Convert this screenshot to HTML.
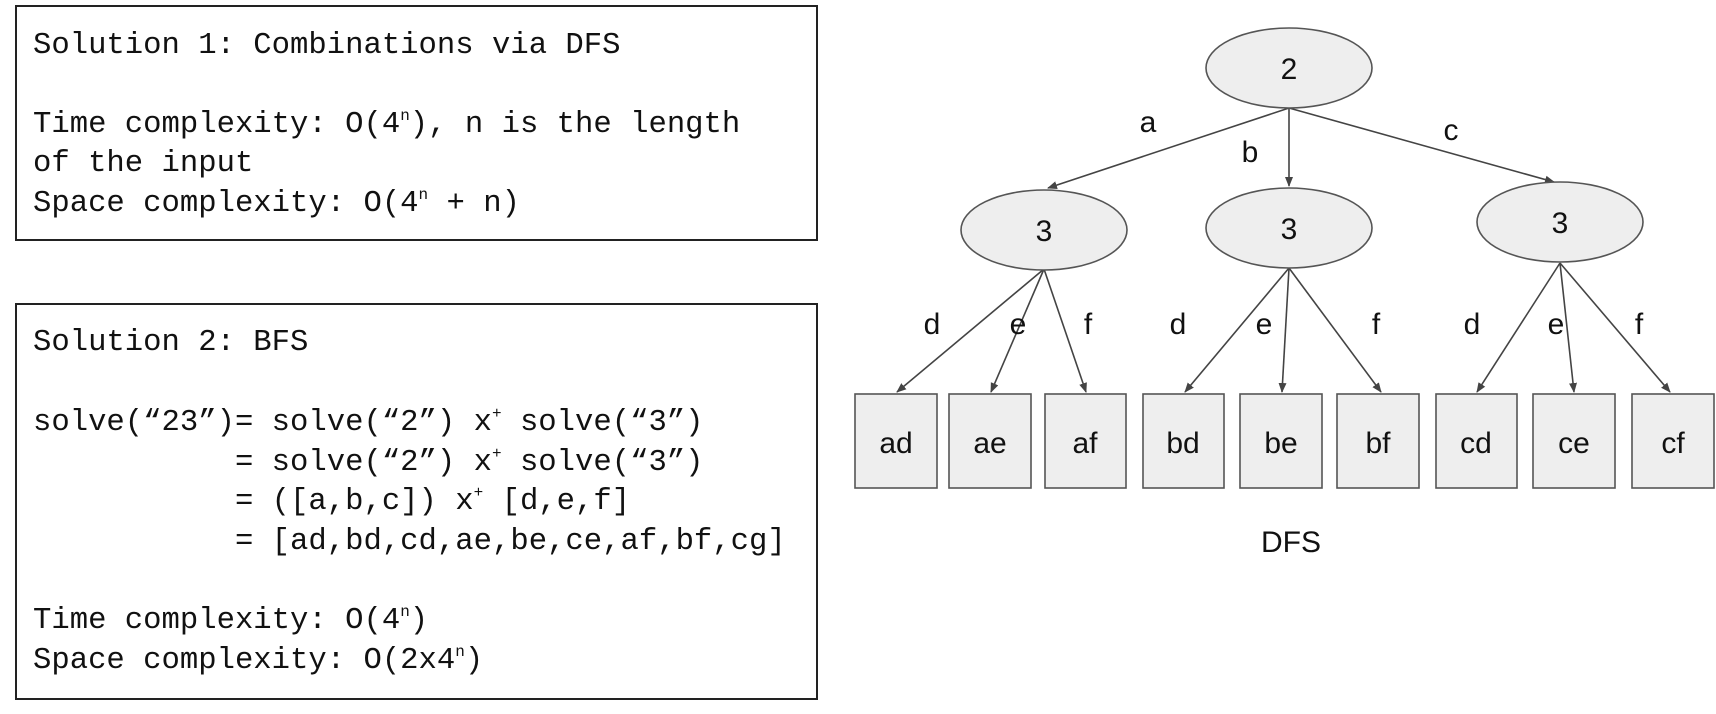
<!DOCTYPE html>
<html><head><meta charset="utf-8"><style>
body{margin:0;width:1716px;height:714px;background:#fff;overflow:hidden;position:relative}
.box{position:absolute;border:2px solid #222;box-sizing:border-box}
.t{position:absolute;left:33px;font-family:"Liberation Mono",monospace;font-size:30.6px;white-space:pre;color:#111;line-height:40px}
sup{font-size:16px;vertical-align:12px;line-height:0}
svg{position:absolute;left:0;top:0}
</style></head><body>
<div class="box" style="left:15px;top:5px;width:803px;height:236px"></div>
<div class="box" style="left:15px;top:303px;width:803px;height:397px"></div>
<div class="t" style="top:26px">Solution 1: Combinations via DFS</div>
<div class="t" style="top:105px">Time complexity: O(4<sup>n</sup>), n is the length</div>
<div class="t" style="top:144px">of the input</div>
<div class="t" style="top:184px">Space complexity: O(4<sup>n</sup> + n)</div>
<div class="t" style="top:323px">Solution 2: BFS</div>
<div class="t" style="top:403px">solve(“23”)= solve(“2”) x<sup>+</sup> solve(“3”)</div>
<div class="t" style="top:443px">           = solve(“2”) x<sup>+</sup> solve(“3”)</div>
<div class="t" style="top:482px">           = ([a,b,c]) x<sup>+</sup> [d,e,f]</div>
<div class="t" style="top:522px">           = [ad,bd,cd,ae,be,ce,af,bf,cg]</div>
<div class="t" style="top:601px">Time complexity: O(4<sup>n</sup>)</div>
<div class="t" style="top:641px">Space complexity: O(2x4<sup>n</sup>)</div>
<svg width="1716" height="714" font-family="Liberation Sans, Arial, sans-serif" font-size="30" text-anchor="middle">
<defs><marker id="ar" markerWidth="10" markerHeight="10" refX="9" refY="5" orient="auto" markerUnits="userSpaceOnUse"><path d="M0,1 L10,5 L0,9 z" fill="#444"/></marker></defs>
<g stroke="#444" stroke-width="1.6" marker-end="url(#ar)">
<line x1="1289" y1="108" x2="1048" y2="188"/><line x1="1289" y1="108" x2="1289" y2="186"/><line x1="1289" y1="108" x2="1554" y2="182"/>
<line x1="1044" y1="269" x2="897" y2="392"/><line x1="1044" y1="269" x2="991" y2="392"/><line x1="1044" y1="269" x2="1086" y2="392"/>
<line x1="1289" y1="268" x2="1185" y2="392"/><line x1="1289" y1="268" x2="1282" y2="392"/><line x1="1289" y1="268" x2="1381" y2="392"/>
<line x1="1560" y1="263" x2="1477" y2="392"/><line x1="1560" y1="263" x2="1574" y2="392"/><line x1="1560" y1="263" x2="1670" y2="392"/>
</g>
<g fill="#eee" stroke="#555" stroke-width="1.6">
<ellipse cx="1289" cy="68" rx="83" ry="40"/>
<ellipse cx="1044" cy="230" rx="83" ry="40"/><ellipse cx="1289" cy="228" rx="83" ry="40"/><ellipse cx="1560" cy="222" rx="83" ry="40"/>
<rect x="855" y="394" width="82" height="94"/><rect x="949" y="394" width="82" height="94"/><rect x="1045" y="394" width="81" height="94"/>
<rect x="1143" y="394" width="81" height="94"/><rect x="1240" y="394" width="82" height="94"/><rect x="1337" y="394" width="82" height="94"/>
<rect x="1436" y="394" width="81" height="94"/><rect x="1533" y="394" width="82" height="94"/><rect x="1632" y="394" width="82" height="94"/>
</g>
<g fill="#111">
<text x="1289" y="79">2</text><text x="1044" y="241">3</text><text x="1289" y="239">3</text><text x="1560" y="233">3</text>
<text x="896" y="453">ad</text><text x="990" y="453">ae</text><text x="1085" y="453">af</text><text x="1183" y="453">bd</text><text x="1281" y="453">be</text><text x="1378" y="453">bf</text><text x="1476" y="453">cd</text><text x="1574" y="453">ce</text><text x="1673" y="453">cf</text>
<text x="1148" y="132">a</text><text x="1250" y="162">b</text><text x="1451" y="140">c</text>
<text x="932" y="334">d</text><text x="1018" y="334">e</text><text x="1088" y="334">f</text>
<text x="1178" y="334">d</text><text x="1264" y="334">e</text><text x="1376" y="334">f</text>
<text x="1472" y="334">d</text><text x="1556" y="334">e</text><text x="1639" y="334">f</text>
<text x="1291" y="552">DFS</text>
</g>
</svg>
</body></html>
